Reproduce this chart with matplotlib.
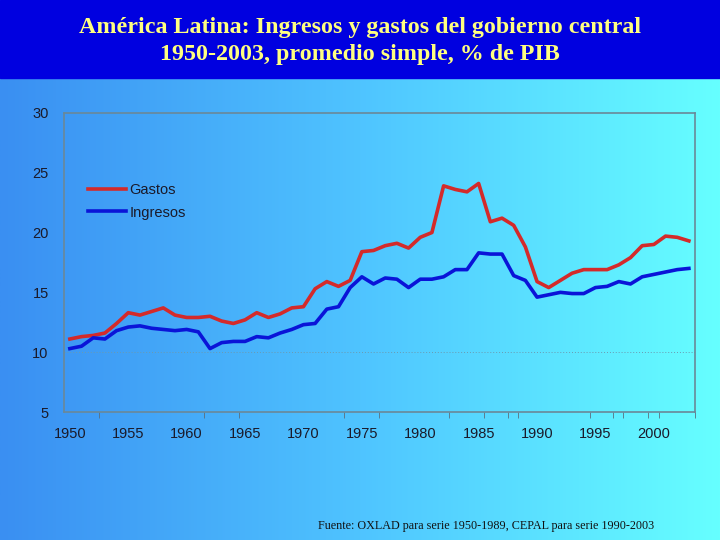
import numpy as np
import matplotlib

matplotlib.use("Agg")
import matplotlib.pyplot as plt
from matplotlib.colors import LinearSegmentedColormap

years = list(range(1950, 2004))
gastos = [11.1, 11.3, 11.4, 11.6, 12.4, 13.3, 13.1, 13.4, 13.7, 13.1,
          12.9, 12.9, 13.0, 12.6, 12.4, 12.7, 13.3, 12.9, 13.2, 13.7,
          13.8, 15.3, 15.9, 15.5, 16.0, 18.4, 18.5, 18.9, 19.1, 18.7,
          19.6, 20.0, 23.9, 23.6, 23.4, 24.1, 20.9, 21.2, 20.6, 18.8,
          15.9, 15.4, 16.0, 16.6, 16.9, 16.9, 16.9, 17.3, 17.9, 18.9,
          19.0, 19.7, 19.6, 19.3]
ingresos = [10.3, 10.5, 11.2, 11.1, 11.8, 12.1, 12.2, 12.0, 11.9, 11.8,
            11.9, 11.7, 10.3, 10.8, 10.9, 10.9, 11.3, 11.2, 11.6, 11.9,
            12.3, 12.4, 13.6, 13.8, 15.4, 16.3, 15.7, 16.2, 16.1, 15.4,
            16.1, 16.1, 16.3, 16.9, 16.9, 18.3, 18.2, 18.2, 16.4, 16.0,
            14.6, 14.8, 15.0, 14.9, 14.9, 15.4, 15.5, 15.9, 15.7, 16.3,
            16.5, 16.7, 16.9, 17.0]
year_labels = list(range(1950, 2001, 5))
odd_ticks = [1952.5, 1961.5, 1964.5, 1973.5, 1976.5, 1982.5, 1985.5,
             1987.5, 1988.4, 1994.5, 1996.5, 1997.4, 1999.5, 2000.4, 2003.5]

fig = plt.figure(figsize=(7.2, 5.4), dpi=100)

# background: horizontal gradient, dark blue title band on top
bg = fig.add_axes([0, 0, 1, 1], zorder=-10)
grad = LinearSegmentedColormap.from_list("bg", ["#3a8ff2", "#4fc4ff", "#66ffff"])
bg.imshow(np.linspace(0, 1, 256)[None, :], aspect="auto", cmap=grad,
          extent=[0, 1, 0, 1])
bg.axhspan(1 - 78 / 540, 1, color="#0000e0")
bg.set_xlim(0, 1); bg.set_ylim(0, 1)
bg.axis("off")

fig.text(0.5, 1 - 41 / 540, "América Latina: Ingresos y gastos del gobierno central\n"
         "1950-2003, promedio simple, % de PIB", ha="center", va="center",
         fontsize=17.3, fontweight="bold", color="#ffff80",
         family="Liberation Serif", linespacing=1.38)

ax = fig.add_axes([0.0889, 0.237, 0.876, 0.554])
ax.patch.set_alpha(0)
ax.plot(years, gastos, color="#d42a2a", lw=2.6, label="Gastos")
ax.plot(years, ingresos, color="#0a14d8", lw=2.6, label="Ingresos")
ax.axhline(10, color="#6a9ab0", lw=0.7, ls=(0, (1, 2)), zorder=0)

ax.set_xlim(1949.5, 2003.5)
ax.set_ylim(5, 30)
ax.set_yticks([5, 10, 15, 20, 25, 30])
ax.set_xticks(year_labels)
ax.set_xticks(odd_ticks, minor=True)
ax.tick_params(axis="x", which="major", length=0, pad=11)
ax.tick_params(axis="x", which="minor", length=4, color="#5a6f80")
ax.tick_params(axis="y", length=0, pad=11)
ax.tick_params(labelsize=10.5, labelcolor="#1a1a2a")
for lab in ax.get_xticklabels() + ax.get_yticklabels():
    lab.set_family("Liberation Sans")
for sp in ax.spines.values():
    sp.set_color("#6a8898")
    sp.set_linewidth(1.2)

leg = ax.legend(loc="upper left", bbox_to_anchor=(0.018, 0.81), frameon=False,
                handlelength=2.6, handletextpad=0.2, labelspacing=0.6,
                prop={"family": "Liberation Sans", "size": 10.5})
for t in leg.get_texts():
    t.set_color("#1a1a2a")

fig.text(318 / 720, 1 - 526 / 540,
         "Fuente: OXLAD para serie 1950-1989, CEPAL para serie 1990-2003",
         ha="left", va="center", fontsize=8.7, family="Liberation Serif",
         color="#111111")

fig.savefig("out.png", dpi=100)
